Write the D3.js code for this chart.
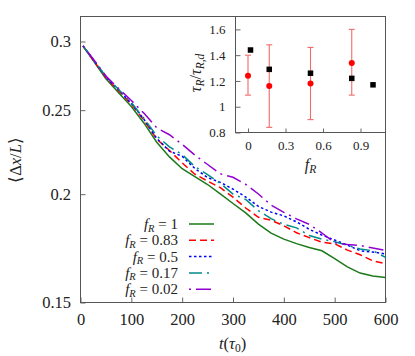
<!DOCTYPE html>
<html><head><meta charset="utf-8">
<script src="https://cdn.jsdelivr.net/npm/d3@7"></script>
<style>
html,body{margin:0;padding:0;background:#fff;}
svg{display:block;}
svg text, svg tspan{font-family:"Liberation Serif" !important;}
</style></head>
<body>
<svg id="c" width="415" height="356" font-family="Liberation Serif"></svg>
<script>
// ---------- data (main panel) ----------
const times   = [5,25,50,75,100,125,150,175,200,225,250,275,300,325,350,375,400,425,450,475,500,525,550,575,600];
const fR_1    = [0.2964,0.2852,0.2717,0.2619,0.2524,0.2415,0.2296,0.2208,0.2140,0.2095,0.2052,0.2002,0.1951,0.1903,0.1847,0.1803,0.1775,0.1754,0.1736,0.1721,0.1685,0.1649,0.1622,0.1609,0.1603];
const fR_083  = [0.2964,0.2856,0.2727,0.2630,0.2541,0.2434,0.2315,0.2246,0.2173,0.2109,0.2071,0.2035,0.1984,0.1928,0.1881,0.1866,0.1839,0.1805,0.1782,0.1760,0.1753,0.1724,0.1703,0.1676,0.1663];
const fR_05   = [0.2964,0.2860,0.2730,0.2638,0.2545,0.2439,0.2319,0.2242,0.2212,0.2141,0.2090,0.2064,0.2027,0.1985,0.1936,0.1907,0.1888,0.1858,0.1822,0.1794,0.1771,0.1747,0.1721,0.1715,0.1707];
const fR_017  = [0.2964,0.2860,0.2734,0.2641,0.2551,0.2445,0.2335,0.2268,0.2222,0.2152,0.2107,0.2058,0.2001,0.1972,0.1914,0.1874,0.1846,0.1829,0.1792,0.1775,0.1763,0.1746,0.1729,0.1721,0.1691];
const fR_002  = [0.2964,0.2864,0.2737,0.2648,0.2565,0.2479,0.2385,0.2342,0.2283,0.2219,0.2164,0.2111,0.2092,0.2053,0.2001,0.1943,0.1906,0.1873,0.1846,0.1804,0.1758,0.1750,0.1745,0.1734,0.1722];
const seriesNames = ["1","0.83","0.5","0.17","0.02"];
const xTicks = [0,100,200,300,400,500,600];
const yTicks = [0.15,0.2,0.25,0.3];

// ---------- data (inset) ----------
const sqF  = [0.02,0.17,0.5,0.83,1];
const sqV  = [1.44,1.29,1.26,1.22,1.17];
const dotF = [0,0.17,0.5,0.83];
const dotV = [1.24,1.16,1.18,1.34];
const dotLo= [1.09,0.84,0.90,1.09];
const dotHi= [1.40,1.48,1.46,1.60];
const inXTicks = [0,0.3,0.6,0.9];
const inYTicks = [0.8,1,1.2,1.4,1.6];

// ---------- styles ----------
const styles = [
  {color:"#1a7a1a", dash:null},
  {color:"#ff0000", dash:"7,4"},
  {color:"#0000ff", dash:"2.5,2.5"},
  {color:"#008b8b", dash:"13,5,2,5"},
  {color:"#9400d3", dash:"2,5,15,5"}
];
const seriesVals = [fR_1,fR_083,fR_05,fR_017,fR_002];

const svg = d3.select("#c");
const L=80.5, R=385.5, T=16.5, B=302.5;
const x = d3.scaleLinear().domain([0,600]).range([L,R]);
const y = d3.scaleLog().domain([0.15,0.3206]).range([B,T]);

function txt(sel,size){
  return sel.attr("font-size",size).attr("fill","#222");
}
function styleAxis(g,size){
  g.attr("font-family",null).attr("font-size",null);
  g.select(".domain").remove();
  g.selectAll("line").attr("stroke","#666");
  txt(g.selectAll("text"),size);
}

// axes
const fs = 16.5;
const gx = svg.append("g").attr("transform",`translate(0,${B})`)
  .call(d3.axisBottom(x).tickValues(xTicks).tickSize(-5).tickPadding(10.8).tickFormat(d3.format("d")));
const gy = svg.append("g").attr("transform",`translate(${L},0)`)
  .call(d3.axisLeft(y).tickValues(yTicks).tickSize(-5).tickPadding(9.5).tickFormat(d=>String(d)));
styleAxis(gx,fs); styleAxis(gy,fs);
svg.append("rect").attr("x",L).attr("y",T).attr("width",R-L).attr("height",B-T)
  .attr("fill","none").attr("stroke","#555").attr("stroke-width",1);

// lines
const line = d3.line().x((d,i)=>x(times[i])).y(d=>y(d));
seriesVals.forEach((vals,k)=>{
  svg.append("path").attr("d",line(vals)).attr("fill","none")
    .attr("stroke",styles[k].color).attr("stroke-width",1.5)
    .attr("stroke-dasharray",styles[k].dash);
});

// legend
const lgX = 178, lgY0 = 224, lgDy = 16.3;
seriesNames.forEach((nm,k)=>{
  const yy = lgY0 + k*lgDy;
  const t = txt(svg.append("text"),15).attr("x",lgX).attr("y",yy+5).attr("text-anchor","end");
  t.append("tspan").attr("font-style","italic").text("f");
  t.append("tspan").attr("font-style","italic").attr("font-size",10.5).attr("dy",2.5).text("R");
  t.append("tspan").attr("dy",-2.5).text(" = "+nm);
  svg.append("line").attr("x1",189).attr("x2",214).attr("y1",yy).attr("y2",yy)
    .attr("stroke",styles[k].color).attr("stroke-width",1.5).attr("stroke-dasharray",styles[k].dash);
});

// axis labels
const xl = txt(svg.append("text"),16.5).attr("x",232.5).attr("y",349).attr("text-anchor","middle");
xl.append("tspan").attr("font-style","italic").text("t");
xl.append("tspan").text("(");
xl.append("tspan").attr("font-style","italic").text("τ");
xl.append("tspan").attr("font-size",11.5).attr("dy",3).text("0");
xl.append("tspan").attr("dy",-3).text(")");

const yl = txt(svg.append("text"),16.5).attr("transform","translate(21,160) rotate(-90)").attr("text-anchor","middle");
yl.append("tspan").text("⟨Δ");
yl.append("tspan").attr("font-style","italic").text("x");
yl.append("tspan").text("/");
yl.append("tspan").attr("font-style","italic").text("L");
yl.append("tspan").text("⟩");

// ---------- inset ----------
const iL=235.5, iR=385.5, iT=16.5, iB=132.5;
const ix = d3.scaleLinear().domain([-0.1,1.1]).range([iL,iR]);
const iy = d3.scaleLinear().domain([0.8,1.7]).range([iB,iT]);
svg.append("rect").attr("x",iL).attr("y",iT).attr("width",iR-iL).attr("height",iB-iT)
  .attr("fill","#fff").attr("stroke","#555").attr("stroke-width",1);
const ifs = 13;
const igx = svg.append("g").attr("transform",`translate(0,${iB})`)
  .call(d3.axisBottom(ix).tickValues(inXTicks).tickSize(-4).tickPadding(8.3).tickFormat(d=>String(d)));
const igy = svg.append("g").attr("transform",`translate(${iL},0)`)
  .call(d3.axisLeft(iy).tickValues(inYTicks).tickSize(-5).tickPadding(10).tickFormat(d=>String(d)));
styleAxis(igx,ifs); styleAxis(igy,ifs);

// error bars
const cap = 3;
dotF.forEach((f,i)=>{
  const cx = ix(f);
  svg.append("line").attr("x1",cx).attr("x2",cx).attr("y1",iy(dotLo[i])).attr("y2",iy(dotHi[i]))
    .attr("stroke","#f26a6a").attr("stroke-width",1.1);
  [dotLo[i],dotHi[i]].forEach(v=>{
    svg.append("line").attr("x1",cx-cap).attr("x2",cx+cap).attr("y1",iy(v)).attr("y2",iy(v))
      .attr("stroke","#f26a6a").attr("stroke-width",1.1);
  });
});
svg.selectAll(".dot").data(dotF).enter().append("circle")
  .attr("cx",d=>ix(d)).attr("cy",(d,i)=>iy(dotV[i])).attr("r",3).attr("fill","#ff0000");
const sq = 5.5;
svg.selectAll(".sq").data(sqF).enter().append("rect")
  .attr("x",d=>ix(d)-sq/2).attr("y",(d,i)=>iy(sqV[i])-sq/2).attr("width",sq).attr("height",sq).attr("fill","#000");

// inset labels
const ixl = txt(svg.append("text"),16).attr("x",310.5).attr("y",170).attr("text-anchor","middle");
ixl.append("tspan").attr("font-style","italic").text("f");
ixl.append("tspan").attr("font-style","italic").attr("font-size",11.5).attr("dy",3).text("R");

const iyl = txt(svg.append("text"),16).attr("transform","translate(201,73) rotate(-90)").attr("text-anchor","middle");
iyl.append("tspan").attr("font-style","italic").text("τ");
iyl.append("tspan").attr("font-style","italic").attr("font-size",11.5).attr("dy",3).text("R");
iyl.append("tspan").attr("dy",-3).text("/");
iyl.append("tspan").attr("font-style","italic").text("τ");
iyl.append("tspan").attr("font-style","italic").attr("font-size",11.5).attr("dy",3).text("R,d");
</script>
</body></html>
